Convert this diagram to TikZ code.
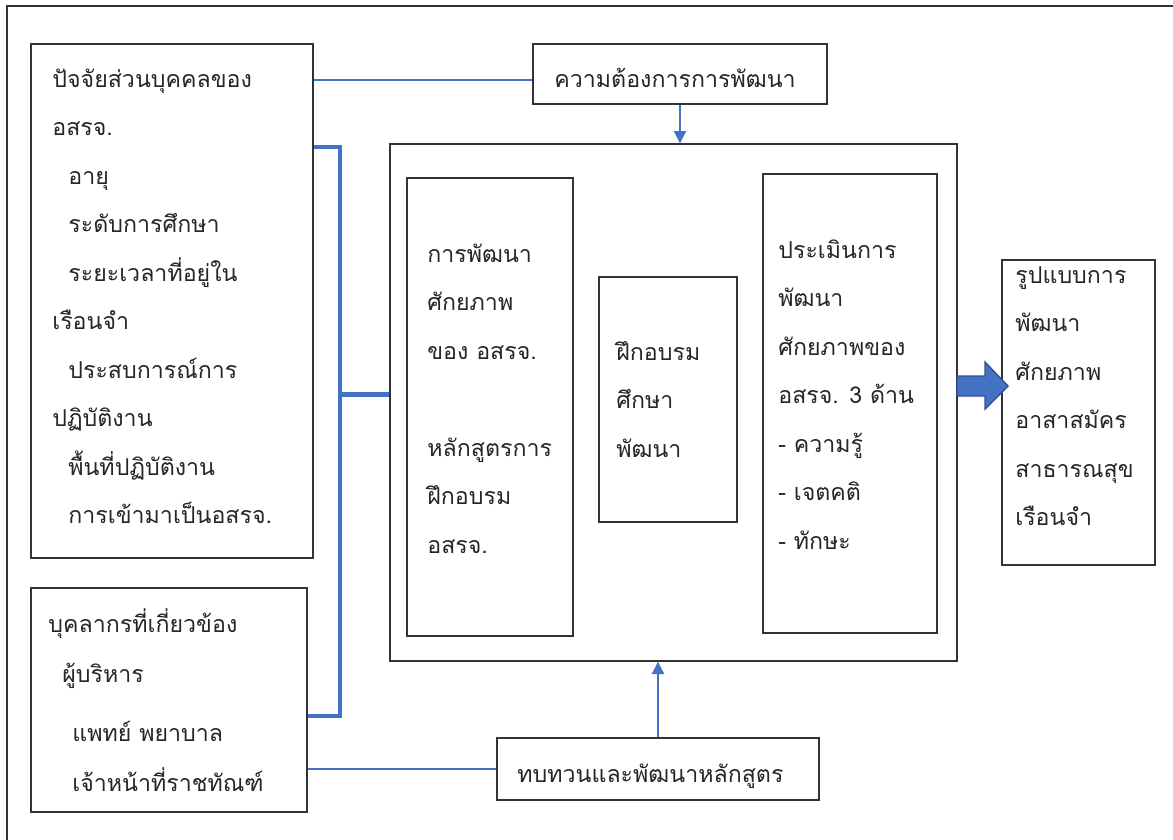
\documentclass[tikz,border=0pt]{standalone}
\usepackage{fontspec}
\newfontfamily\thaifont[Script=Thai]{Loma}
\usetikzlibrary{arrows.meta,fit}
\definecolor{linkblue}{HTML}{4472C4}
\definecolor{arrowedge}{HTML}{2F528F}
\newcommand{\thaiindent}[1]{\hspace*{#1}}
\newcommand{\linestrut}{\rule{0pt}{0.7cm}}
\tikzset{
  frame/.style={draw=black!80, line width=0.8pt, inner sep=0pt},
  txt/.style={anchor=north west, inner sep=0pt, align=left, text=black!85,
    font=\thaifont\fontsize{13.2pt}{27.6pt}\selectfont},
  link/.style={draw=linkblue, line width=0.6pt},
  linkarrow/.style={link, -{Triangle[length=7pt,width=7pt]}},
  bracket/.style={draw=linkblue, line width=2.4pt},
}
\begin{document}
\begin{tikzpicture}[x=0.02cm, y=-0.02cm]
  \useasboundingbox (0,0) rectangle (1173,839);
  \draw[black!80, line width=0.8pt] (7,900) -- (7,6) -- (1200,6);

  \node[frame, fit={(31,44) (313,558)}] (factors) {};
  \node[frame, fit={(31,588) (307,812)}] (staff) {};
  \node[frame, fit={(533,44) (827,104)}] (needs) {};
  \node[frame, fit={(390,144) (957,661)}] (mainbox) {};
  \node[frame, fit={(407,178) (573,636)}] (course) {};
  \node[frame, fit={(599,277) (737,522)}] (training) {};
  \node[frame, fit={(763,174) (937,633)}] (evaluate) {};
  \node[frame, fit={(1002,260) (1155,565)}] (model) {};
  \node[frame, fit={(497,738) (819,800)}] (review) {};

  \node[txt] (factorstext) at (52,52) {\linestrut ปัจจัยส่วนบุคคลของ\\
    อสรจ.\\
    \thaiindent{0.32cm}อายุ\\
    \thaiindent{0.32cm}ระดับการศึกษา\\
    \thaiindent{0.32cm}ระยะเวลาที่อยู่ใน\\
    เรือนจำ\\
    \thaiindent{0.32cm}ประสบการณ์การ\\
    ปฏิบัติงาน\\
    \thaiindent{0.32cm}พื้นที่ปฏิบัติงาน\\
    \thaiindent{0.32cm}การเข้ามาเป็นอสรจ.};
  \node[txt] (stafftext) at (48,597) {\linestrut บุคลากรที่เกี่ยวข้อง\\[0.04cm]
    \thaiindent{0.28cm}ผู้บริหาร\\[0.2cm]
    \thaiindent{0.48cm}แพทย์ พยาบาล\\[0.04cm]
    \thaiindent{0.48cm}เจ้าหน้าที่ราชทัณฑ์};
  \node[txt] (needstext) at (554,52) {\linestrut ความต้องการการพัฒนา};
  \node[txt] (coursetext) at (427,227) {\linestrut การพัฒนา\\
    ศักยภาพ\\
    ของ อสรจ.\\[0.97cm]
    หลักสูตรการ\\
    ฝึกอบรม\\
    อสรจ.};
  \node[txt] (trainingtext) at (616,325) {\linestrut ฝึกอบรม\\
    ศึกษา\\
    พัฒนา};
  \node[txt] (evaluatetext) at (778,223) {\linestrut ประเมินการ\\
    พัฒนา\\
    ศักยภาพของ\\
    อสรจ. 3 ด้าน\\
    - ความรู้\\
    - เจตคติ\\
    - ทักษะ};
  \node[txt] (modeltext) at (1015,248) {\linestrut รูปแบบการ\\
    พัฒนา\\
    ศักยภาพ\\
    อาสาสมัคร\\
    สาธารณสุข\\
    เรือนจำ};
  \node[txt] (reviewtext) at (517,747) {\linestrut ทบทวนและพัฒนาหลักสูตร};

  \coordinate (jointop) at (340,147);
  \coordinate (joinbot) at (340,716);
  \draw[bracket] (jointop -| factors.east) -- (jointop) -- (joinbot) -- (joinbot -| staff.east);
  \draw[bracket] ([yshift=0.16cm]mainbox.west -| jointop) -- ([yshift=0.16cm]mainbox.west);

  \draw[link] ([yshift=-0.12cm]needs.west) -- ([yshift=-0.12cm]needs.west -| factors.east);
  \draw[linkarrow] (needs.south) -- (needs.south |- mainbox.north);
  \draw[link] (review.west) -- (review.west -| staff.east);
  \draw[linkarrow] (review.north) -- (review.north |- mainbox.south);

  \filldraw[fill=linkblue, draw=arrowedge, line width=0.8pt]
    (957,376) -- (985,376) -- (985,362) -- (1008,386) -- (985,409) -- (985,396) -- (957,396) -- cycle;
\end{tikzpicture}
\end{document}
